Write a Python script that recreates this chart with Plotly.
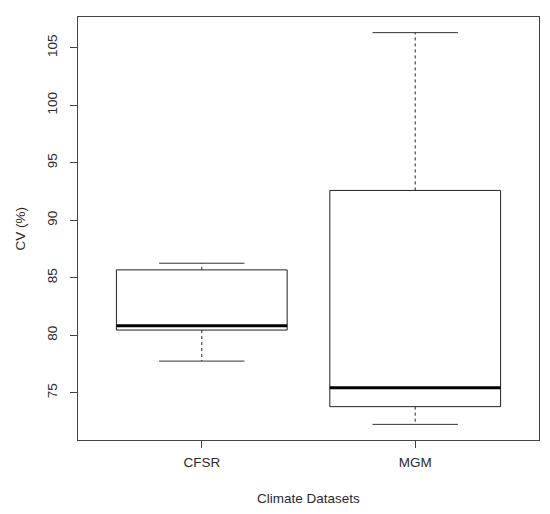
import plotly.graph_objects as go

# values
datasets = ["CFSR", "MGM"]
positions = [1, 2]
lower_whisker = [77.75, 72.25]
q1 = [80.45, 73.79]
median = [80.82, 75.44]
q3 = [85.68, 92.59]
upper_whisker = [86.26, 106.31]

box_half = 0.4
cap_half = 0.2

fig = go.Figure()

for i, name in enumerate(datasets):
    x0 = positions[i] - box_half
    x1 = positions[i] + box_half
    # box
    fig.add_trace(
        go.Scatter(
            x=[x0, x1, x1, x0, x0],
            y=[q1[i], q1[i], q3[i], q3[i], q1[i]],
            mode="lines",
            line=dict(color="#222222", width=1),
            showlegend=False,
            hoverinfo="skip",
        )
    )
    # median
    fig.add_trace(
        go.Scatter(
            x=[x0, x1],
            y=[median[i], median[i]],
            mode="lines",
            line=dict(color="black", width=3),
            showlegend=False,
            name=name,
        )
    )
    # whiskers (dashed)
    fig.add_trace(
        go.Scatter(
            x=[positions[i], positions[i], None, positions[i], positions[i]],
            y=[q3[i], upper_whisker[i], None, q1[i], lower_whisker[i]],
            mode="lines",
            line=dict(color="#222222", width=1, dash="3px,3px"),
            showlegend=False,
            hoverinfo="skip",
        )
    )
    # staples
    fig.add_trace(
        go.Scatter(
            x=[positions[i] - cap_half, positions[i] + cap_half, None,
               positions[i] - cap_half, positions[i] + cap_half],
            y=[upper_whisker[i], upper_whisker[i], None,
               lower_whisker[i], lower_whisker[i]],
            mode="lines",
            line=dict(color="#333333", width=1),
            showlegend=False,
            hoverinfo="skip",
        )
    )

font = dict(family="Liberation Sans, Arial", size=13.5, color="#2a2a2a")

# page body has an 8px margin, so the figure is sized to fit inside it
fig.update_layout(
    width=534,
    height=498,
    margin=dict(l=70, r=3, t=9, b=66),
    plot_bgcolor="white",
    paper_bgcolor="white",
    font=font,
    xaxis=dict(
        range=[0.42, 2.58],
        tickvals=positions,
        ticktext=datasets,
        tickfont=font,
        automargin=False,
        showgrid=False,
        zeroline=False,
        showline=True,
        mirror=True,
        linecolor="#444444",
        linewidth=1,
        ticks="outside",
        ticklen=7,
        tickcolor="#444444",
        ticklabelstandoff=3,
    ),
    yaxis=dict(
        range=[70.89, 107.67],
        tickvals=[75, 80, 85, 90, 95, 100, 105],
        tickangle=-90,
        tickfont=font,
        automargin=False,
        showgrid=False,
        zeroline=False,
        showline=True,
        mirror=True,
        linecolor="#444444",
        linewidth=1,
        ticks="outside",
        ticklen=7,
        tickcolor="#444444",
        ticklabelstandoff=8,
    ),
    annotations=[
        dict(
            text="Climate Datasets",
            xref="paper", yref="paper", x=0.5, y=0,
            yshift=-58, yanchor="middle", showarrow=False, font=font,
        ),
        dict(
            text="CV (%)",
            xref="paper", yref="paper", x=0, y=0.5,
            xshift=-58, xanchor="center", textangle=-90,
            showarrow=False, font=font,
        ),
    ],
)

fig.write_html("out.html")
